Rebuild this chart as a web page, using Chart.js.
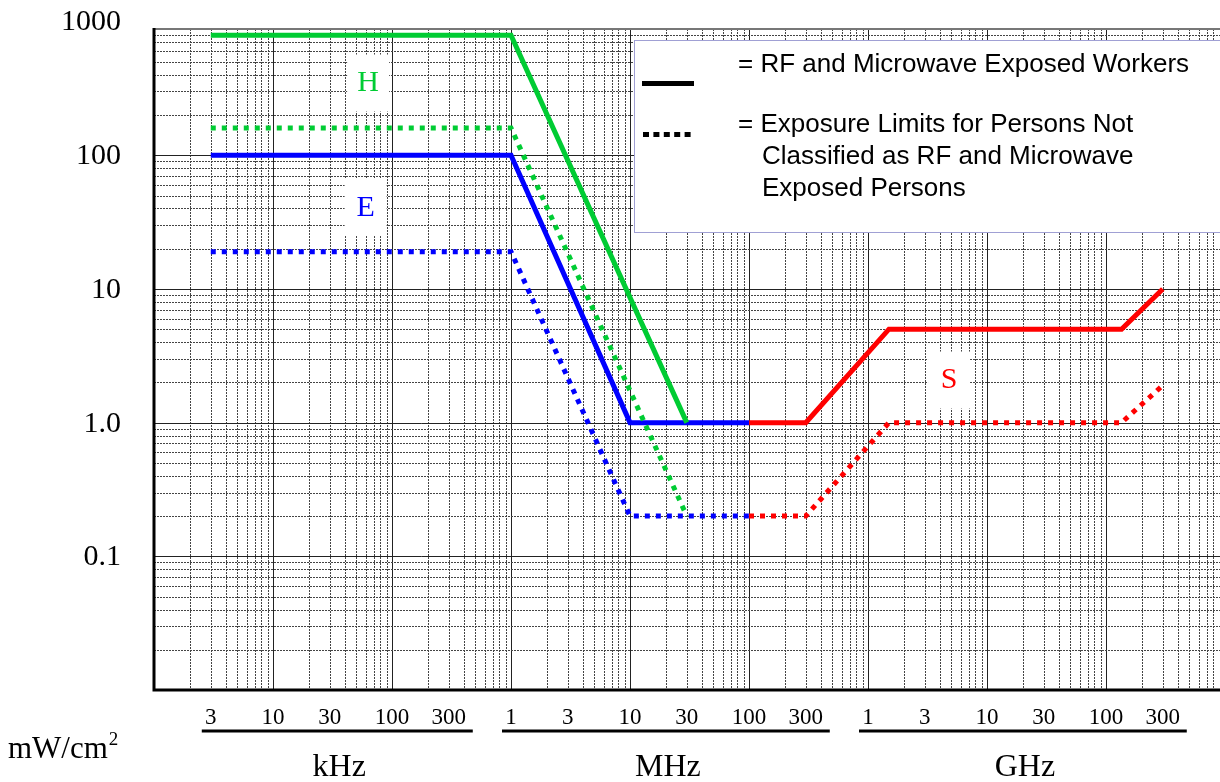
<!DOCTYPE html>
<html>
<head>
<meta charset="utf-8">
<script src="https://cdn.jsdelivr.net/npm/chart.js@4.4.1/dist/chart.umd.min.js"></script>
<style>
  html, body { margin: 0; padding: 0; background: #fff; overflow: hidden; }
  #wrap { width: 1220px; height: 782px; overflow: hidden; }
  canvas { display: block; }
</style>
</head>
<body>
<div id="wrap"><canvas id="chart" width="1240" height="782"></canvas></div>
<script>
// frequency in MHz, power density in mW/cm2
const hFreq    = [0.003, 1, 30];
const hWorkers = [790, 790, 1.0];
const hPublic  = [160, 160, 0.2];

const eFreq    = [0.003, 1, 10, 100];
const eWorkers = [100, 100, 1.0, 1.0];
const ePublic  = [19, 19, 0.2, 0.2];

const sFreq    = [100, 300, 1500, 135000, 300000];
const sWorkers = [1.0, 1.0, 5, 5, 10];
const sPublic  = [0.2, 0.2, 1.0, 1.0, 1.9];

const xTicks      = [0.003, 0.01, 0.03, 0.1, 0.3, 1, 3, 10, 30, 100, 300, 1000, 3000, 10000, 30000, 100000, 300000];
const xTickLabels = ["3", "10", "30", "100", "300", "1", "3", "10", "30", "100", "300", "1", "3", "10", "30", "100", "300"];
const bandNames   = ["kHz", "MHz", "GHz"];
const bandFirst   = [0, 5, 11];   // index into xTicks
const bandLast    = [4, 10, 16];

const yTicks      = [1000, 100, 10, 1, 0.1];
const yTickLabels = ["1000", "100", "10", "1.0", "0.1"];

// curve names and where they sit (freq MHz, mW/cm2)
const curveNames  = ["H", "E", "S"];
const curveColors = ["#00cc33", "#0000ff", "#ff0000"];
const curveNameAt = [[0.063, 350], [0.06, 41], [4800, 2.1]];

const legendLines = [
    ["= RF and Microwave Exposed Workers"],
    ["= Exposure Limits for Persons Not", "Classified as RF and Microwave", "Exposed Persons"]
];

const SERIF = '"Liberation Serif", "Times New Roman", serif';
const SANS  = '"Liberation Sans", Arial, sans-serif';

function pts(f, v)
{
    return f.map((x, i) => ({ x: x, y: v[i] }));
}

function line(data, color, dotted)
{
    return {
        data: data,
        borderColor: color,
        borderWidth: 5,
        borderDash: dotted ? [5, 6] : [],
        borderCapStyle: 'butt',
        borderJoinStyle: 'miter',
        pointRadius: 0,
        fill: false,
        tension: 0
    };
}

/**
 * Draws the log paper, the axis texts, the curve names and the key box.
 */
const paperPlugin = {
    id: 'paper',
    beforeDraw(chart) {
        const ctx = chart.ctx;
        ctx.save();
        ctx.fillStyle = '#fff';
        ctx.fillRect(0, 0, chart.width, chart.height);
        ctx.restore();
    },
    beforeDatasetsDraw(chart) {
        const { ctx, chartArea: a, scales: { x, y } } = chart;
        ctx.save();
        ctx.lineWidth = 1;

        // vertical lines
        for (let e = -3; e <= 5; e++) {
            for (let k = 1; k <= 9; k++) {
                const v = k * Math.pow(10, e);
                const px = Math.round(x.getPixelForValue(v)) + 0.5;
                if (px <= a.left + 1 || px > a.right) continue;
                ctx.setLineDash(k == 1 ? [] : [2, 1]);
                ctx.strokeStyle = k == 1 ? '#222' : '#444';
                ctx.beginPath();
                ctx.moveTo(px, a.top);
                ctx.lineTo(px, a.bottom);
                ctx.stroke();
            }
        }
        // horizontal lines
        for (let e = -2; e <= 2; e++) {
            for (let k = 1; k <= 9; k++) {
                const v = k * Math.pow(10, e);
                const py = Math.round(y.getPixelForValue(v)) + 0.5;
                if (py < a.top + 2 || py >= a.bottom - 1) continue;
                ctx.setLineDash(k == 1 ? [] : [2, 1]);
                ctx.strokeStyle = k == 1 ? '#222' : '#444';
                ctx.beginPath();
                ctx.moveTo(a.left, py);
                ctx.lineTo(a.right, py);
                ctx.stroke();
            }
        }
        ctx.setLineDash([]);

        // frame
        ctx.strokeStyle = '#777';
        ctx.lineWidth = 2;
        ctx.beginPath();
        ctx.moveTo(a.left, a.top);
        ctx.lineTo(a.right, a.top);
        ctx.stroke();
        ctx.strokeStyle = '#000';
        ctx.lineWidth = 3;
        ctx.beginPath();
        ctx.moveTo(a.left, a.top - 1);
        ctx.lineTo(a.left, a.bottom);
        ctx.lineTo(a.right, a.bottom);
        ctx.stroke();

        // curve names on white patches
        ctx.font = '30px ' + SERIF;
        ctx.textAlign = 'center';
        ctx.textBaseline = 'middle';
        for (let i = 0; i < curveNames.length; i++) {
            const cx = x.getPixelForValue(curveNameAt[i][0]);
            const cy = y.getPixelForValue(curveNameAt[i][1]);
            ctx.fillStyle = '#fff';
            ctx.fillRect(cx - 21, cy - 28, 42, 57);
            ctx.fillStyle = curveColors[i];
            ctx.fillText(curveNames[i], cx, cy + 1);
        }

        // y labels
        ctx.fillStyle = '#000';
        ctx.textAlign = 'right';
        for (let i = 0; i < yTicks.length; i++) {
            ctx.fillText(yTickLabels[i], 121, y.getPixelForValue(yTicks[i]) + 1);
        }

        // x labels and frequency bands
        ctx.font = '23px ' + SERIF;
        ctx.textAlign = 'center';
        ctx.textBaseline = 'alphabetic';
        for (let i = 0; i < xTicks.length; i++) {
            ctx.fillText(xTickLabels[i], x.getPixelForValue(xTicks[i]), 724);
        }
        ctx.lineWidth = 3;
        for (let b = 0; b < bandNames.length; b++) {
            const x0 = x.getPixelForValue(xTicks[bandFirst[b]]) - 9;
            const x1 = x.getPixelForValue(xTicks[bandLast[b]]) + 24;
            ctx.beginPath();
            ctx.moveTo(x0, 731);
            ctx.lineTo(x1, 731);
            ctx.stroke();
            ctx.font = '32px ' + SERIF;
            ctx.fillText(bandNames[b], (x0 + x1) / 2 + 2, 776);
        }

        // unit
        ctx.textAlign = 'left';
        ctx.font = '31px ' + SERIF;
        ctx.fillText('mW/cm', 8, 758);
        const w = ctx.measureText('mW/cm').width;
        ctx.font = '19px ' + SERIF;
        ctx.fillText('2', 8 + w + 1, 745);
        ctx.restore();
    },
    afterDatasetsDraw(chart) {
        const ctx = chart.ctx;
        ctx.save();
        // key box
        ctx.fillStyle = '#fff';
        ctx.fillRect(634, 40, 700, 193);
        ctx.strokeStyle = '#a0a0d4';
        ctx.lineWidth = 1;
        ctx.strokeRect(634.5, 40.5, 700, 192);

        ctx.strokeStyle = '#000';
        ctx.lineWidth = 5;
        ctx.beginPath();
        ctx.moveTo(642, 83.5);
        ctx.lineTo(694, 83.5);
        ctx.stroke();
        ctx.setLineDash([6, 4.4]);
        ctx.beginPath();
        ctx.moveTo(643, 134.5);
        ctx.lineTo(692, 134.5);
        ctx.stroke();
        ctx.setLineDash([]);

        ctx.fillStyle = '#000';
        ctx.font = '26px ' + SANS;
        ctx.textBaseline = 'alphabetic';
        ctx.fillText(legendLines[0][0], 738, 72);
        ctx.fillText(legendLines[1][0], 738, 132);
        ctx.fillText(legendLines[1][1], 762, 164);
        ctx.fillText(legendLines[1][2], 762, 196);
        ctx.restore();
    }
};

const chartCanvas = document.getElementById('chart');

let myChart = new Chart(chartCanvas, {
    type: 'line',
    data: {
        datasets: [
            line(pts(hFreq, hWorkers), curveColors[0], false),
            line(pts(hFreq, hPublic),  curveColors[0], true),
            line(pts(eFreq, eWorkers), curveColors[1], false),
            line(pts(eFreq, ePublic),  curveColors[1], true),
            line(pts(sFreq, sWorkers), curveColors[2], false),
            line(pts(sFreq, sPublic),  curveColors[2], true)
        ]
    },
    options: {
        responsive: false,
        animation: false,
        layout: { padding: { left: 154, top: 29, right: 15, bottom: 92 } },
        plugins: { legend: { display: false }, tooltip: { enabled: false } },
        scales: {
            x: { type: 'logarithmic', min: 0.001, max: 1000000, display: false },
            y: { type: 'logarithmic', min: 0.01, max: 880, display: false }
        }
    },
    plugins: [paperPlugin]
});
</script>
</body>
</html>
